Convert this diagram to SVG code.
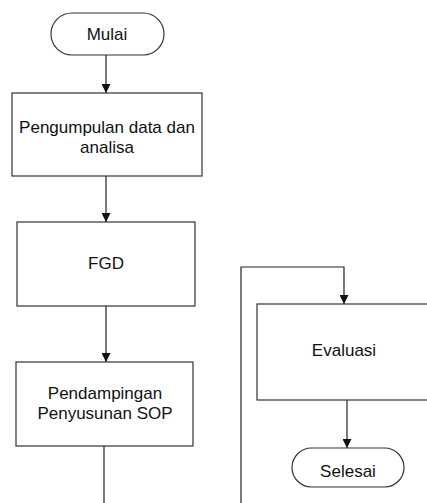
<svg xmlns="http://www.w3.org/2000/svg" width="427" height="503" viewBox="0 0 427 503">
<style>
.box{fill:#fff;stroke:#333;stroke-width:1.2}
.t{font-family:"Liberation Sans",Arial,sans-serif;font-size:17px;fill:#111;text-anchor:middle;dominant-baseline:central}
.c{fill:none;stroke:#222;stroke-width:1.2}
</style>
<defs>
<marker id="ah" viewBox="0 0 10 10" refX="10" refY="5" markerWidth="9" markerHeight="9" markerUnits="userSpaceOnUse" orient="auto">
<path d="M0,0 L10,5 L0,10 z" fill="#111"/>
</marker>
</defs>
<rect width="427" height="503" fill="#fff"/>
<g id="connectors">
<path class="c" d="M106,55 V93" marker-end="url(#ah)"/>
<path class="c" d="M106,176 V222" marker-end="url(#ah)"/>
<path class="c" d="M106,306 V362" marker-end="url(#ah)"/>
<path class="c" d="M104,446 V503"/>
<path class="c" d="M241,503 V267 H344 V304" marker-end="url(#ah)"/>
<path class="c" d="M347,400 V448" marker-end="url(#ah)"/>
</g>
<g id="mulai">
<rect class="box" x="51" y="13" width="113" height="42" rx="21" ry="21"/>
<text class="t" x="107" y="34">Mulai</text>
</g>
<g id="pengumpulan">
<rect class="box" x="12" y="93" width="190" height="83"/>
<text class="t" x="107" y="127">Pengumpulan data dan</text>
<text class="t" x="107" y="147">analisa</text>
</g>
<g id="fgd">
<rect class="box" x="17" y="222" width="178" height="84"/>
<text class="t" x="106" y="263">FGD</text>
</g>
<g id="pendampingan">
<rect class="box" x="16" y="362" width="177" height="84"/>
<text class="t" x="105" y="393">Pendampingan</text>
<text class="t" x="105" y="413">Penyusunan SOP</text>
</g>
<g id="evaluasi">
<rect class="box" x="257" y="304" width="174" height="96"/>
<text class="t" x="344" y="350">Evaluasi</text>
</g>
<g id="selesai">
<rect class="box" x="292" y="448" width="112" height="39" rx="19.5" ry="19.5"/>
<text class="t" x="348" y="471">Selesai</text>
</g>
</svg>
